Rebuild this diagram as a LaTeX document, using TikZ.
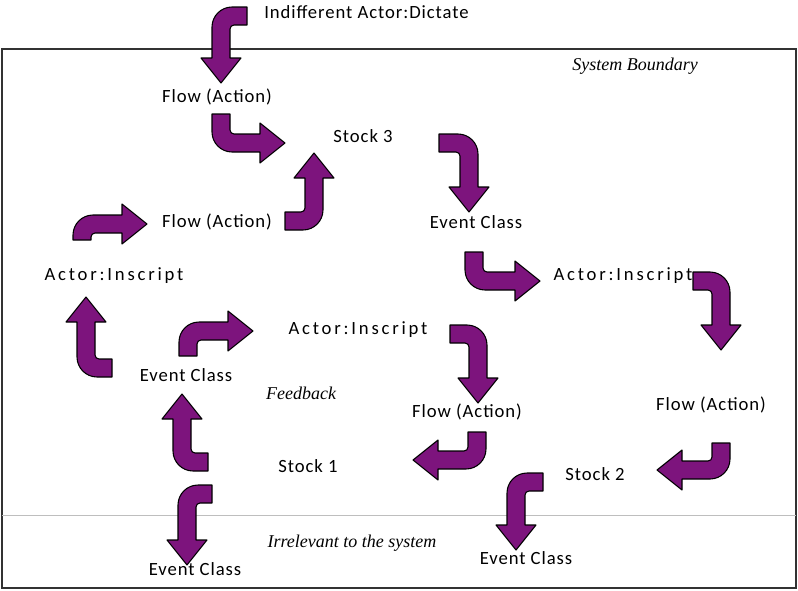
\documentclass[tikz,border=0pt]{standalone}
\usepackage{fontspec}
\setmainfont{Liberation Serif}
\newfontfamily\lblfont[LetterSpace=5]{Carlito}
\newfontfamily\actorfont[LetterSpace=15]{Carlito}
% bent block arrow: #1 placement, #2 run of the tail, #3 reach of the tip
\newcommand{\bentarrow}[3]{%
  \begin{scope}[#1]
  \draw [bent arrow] (0,0) -- (0,#2-20) .. controls (0,#2-9) and (9,#2) .. (20,#2) -- (#3-25,#2) -- (#3-25,#2+11) -- (#3,#2-9) -- (#3-25,#2-29) -- (#3-25,#2-18) -- (22,#2-18) .. controls (19.8,#2-18) and (18,#2-19.8) .. (18,#2-22) -- (18,0) -- cycle ;
  \end{scope}}
\begin{document}
\begin{tikzpicture}[x=0.75pt,y=0.75pt,yscale=-1,xscale=1,
  bent arrow/.style={draw=black,line width=0.8pt,line join=round,fill={rgb, 255:red, 125; green, 20; blue, 125}},
  bend dr/.style={},
  bend dl/.style={xscale=-1},
  bend ld/.style={rotate=90},
  bend rd/.style={rotate=-90,xscale=-1},
  bend ru/.style={rotate=-90},
  bend lu/.style={rotate=90,xscale=-1},
  bend ur/.style={yscale=-1},
  lbl/.style={inner sep=0.75pt,font=\lblfont\fontsize{14}{16}\selectfont},
  actor lbl/.style={inner sep=0.75pt,font=\actorfont\fontsize{14}{16}\selectfont},
  note/.style={inner sep=0.75pt,font=\itshape\fontsize{13.5}{16}\selectfont}]
\useasboundingbox (0,0) rectangle (798,590);

%Shape: Rectangle [id:boundary]
\draw [color={rgb, 255:red, 50; green, 50; blue, 50 }, line width=1.1pt] (2,49) -- (796,49) -- (796,588) -- (2,588) -- cycle ;
%Straight Lines [id:irrelevant line]
\draw [color={rgb, 255:red, 190; green, 190; blue, 190 }, line width=0.75pt] (2,515) -- (796,515) ;

%Shape: Bent Arrow [id:dictate]
\bentarrow{shift={(247,7)},bend ld}{35}{76}
%Shape: Bent Arrow [id:flow to stock 3]
\bentarrow{shift={(212,114)},bend dr}{38}{73}
%Shape: Bent Arrow [id:flow up to stock 3]
\bentarrow{shift={(285,230)},bend ru}{38}{77}
%Shape: Bent Arrow [id:stock 3 out]
\bentarrow{shift={(439,134)},bend rd}{39}{78}
%Shape: Bent Arrow [id:event to actor right]
\bentarrow{shift={(465,252)},bend dr}{38}{75}
%Shape: Bent Arrow [id:actor right out]
\bentarrow{shift={(693,272)},bend rd}{37}{78}
%Shape: Bent Arrow [id:actor mid out]
\bentarrow{shift={(450,325)},bend rd}{37}{78}
%Shape: Bent Arrow [id:flow to stock 1]
\bentarrow{shift={(486,432)},bend dl}{37}{73}
%Shape: Bent Arrow [id:flow to stock 2]
\bentarrow{shift={(730,443)},bend dl}{36}{73}
%Shape: Bent Arrow [id:stock 2 out]
\bentarrow{shift={(543,473)},bend ld}{36}{77}
%Shape: Bent Arrow [id:stock 1 out]
\bentarrow{shift={(212,485)},bend ld}{34}{80}
%Shape: Bent Arrow [id:stock 1 feedback]
\bentarrow{shift={(208,471)},bend lu}{35}{77}
%Shape: Bent Arrow [id:event to actor left]
\bentarrow{shift={(112,377)},bend lu}{35}{80}
%Shape: Bent Arrow [id:actor left out]
\bentarrow{shift={(73,240)},bend ur}{25}{74}
%Shape: Bent Arrow [id:event to actor mid]
\bentarrow{shift={(179,356)},bend ur}{34}{74}

% Text Node
\draw (263,12) node (dictate) [anchor=west] [lbl] {Indifferent Actor:Dictate};
% Text Node
\draw (635,66) node (boundary) [note] {System Boundary};
% Text Node
\draw (217,97) node (flowtop) [lbl] {Flow (Action)};
% Text Node
\draw (363,136) node (stockc) [lbl] {Stock 3};
% Text Node
\draw (217,222) node (flowmid) [lbl] {Flow (Action)};
% Text Node
\draw (476,222) node (eventtop) [lbl] {Event Class};
% Text Node
\draw (114,276) node (actorleft) [actor lbl] {Actor:Inscript};
% Text Node
\draw (623,276) node (actorright) [actor lbl] {Actor:Inscript};
% Text Node
\draw (358,330) node (actormid) [actor lbl] {Actor:Inscript};
% Text Node
\draw (186,375) node (eventmid) [lbl] {Event Class};
% Text Node
\draw (301,393) node (feedback) [note] {Feedback};
% Text Node
\draw (467,412) node (flowlow) [lbl] {Flow (Action)};
% Text Node
\draw (711,405) node (flowright) [lbl] {Flow (Action)};
% Text Node
\draw (308,466) node (stocka) [lbl] {Stock 1};
% Text Node
\draw (595,474) node (stockb) [lbl] {Stock 2};
% Text Node
\draw (352,543) node (irrelevant) [note] {Irrelevant to the system};
% Text Node
\draw (195,569) node (eventlowleft) [lbl] {Event Class};
% Text Node
\draw (526,558) node (eventlowright) [lbl] {Event Class};

\end{tikzpicture}
\end{document}
